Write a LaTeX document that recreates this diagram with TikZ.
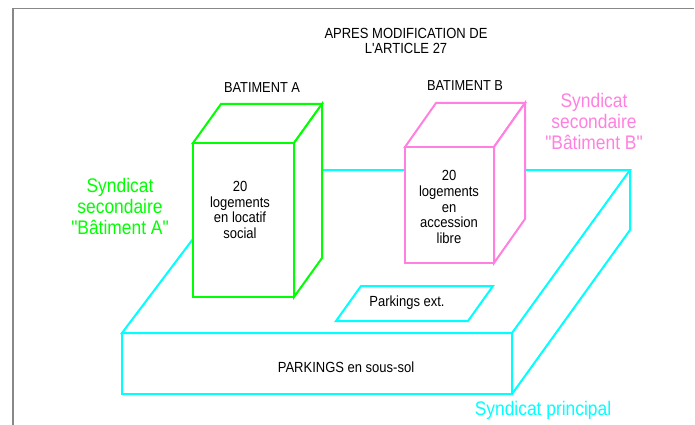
\documentclass[tikz,border=0pt]{standalone}
\usepackage{fontspec}
\usepackage{graphicx}
\setmainfont{Liberation Sans}
\newfontfamily\lsans{Liberation Sans}
\definecolor{cgreen}{RGB}{0,255,0}
\definecolor{ccyan}{RGB}{0,255,255}
\definecolor{cpink}{RGB}{255,128,224}
\definecolor{cframe}{RGB}{136,136,136}
\newcommand\txt[3]{\scalebox{1}[1.13]{\lsans\fontsize{#1}{#2}\selectfont\begin{tabular}{@{}c@{}}#3\end{tabular}}}
\tikzset{
  slab/.style={draw=ccyan, line width=2pt, line join=miter},
  bldA/.style={draw=cgreen, fill=white, line width=2pt, line join=miter},
  bldB/.style={draw=cpink, fill=white, line width=2pt, line join=miter},
  lbl/.style={inner sep=0pt, text=black},
}
\begin{document}
\begin{tikzpicture}[x=1pt,y=-1pt]
\useasboundingbox (0,0) rectangle (695,425);
% frame
\draw[cframe, line width=1.3pt] (13,425) -- (13,8.5) -- (694,8.5);
% slab coordinates
\coordinate (sfl) at (122,333);
\coordinate (sfr) at (512,333);
\coordinate (sbl) at (245,170);
\coordinate (sbr) at (630,170);
\coordinate (sbl2) at (122,394);
\coordinate (sbr2) at (512,394);
\coordinate (sbrd) at (630,230);
\draw[slab] (sfl) -- (sbl) -- (sbr) -- (sfr) -- cycle;
\draw[slab] (sfl) rectangle (sbr2);
\draw[slab] (sbr) -- (sbrd) -- (sbr2);
% parkings ext
\coordinate (p1) at (361,286);
\coordinate (p2) at (493,286);
\coordinate (p3) at (468,321);
\coordinate (p4) at (336,321);
\draw[slab] (p1) -- (p2) -- (p3) -- (p4) -- cycle;
% building A
\coordinate (a1) at (193,143);
\coordinate (a2) at (294,143);
\coordinate (a3) at (294,297);
\coordinate (a4) at (193,297);
\coordinate (a5) at (221,104);
\coordinate (a6) at (322,104);
\coordinate (a7) at (322,258);
\draw[bldA] (a1) -- (a5) -- (a6) -- (a2) -- cycle;
\draw[bldA] (a2) -- (a6) -- (a7) -- (a3) -- cycle;
\draw[bldA] (a1) -- (a2) -- (a3) -- (a4) -- cycle;
% building B
\coordinate (b1) at (405,147);
\coordinate (b2) at (494,147);
\coordinate (b3) at (494,263);
\coordinate (b4) at (405,263);
\coordinate (b5) at (436,103);
\coordinate (b6) at (525,103);
\coordinate (b7) at (525,219);
\draw[bldB] (b1) -- (b5) -- (b6) -- (b2) -- cycle;
\draw[bldB] (b2) -- (b6) -- (b7) -- (b3) -- cycle;
\draw[bldB] (b1) -- (b2) -- (b3) -- (b4) -- cycle;
% texts
\node[lbl] (title) at (406,43) {\txt{13}{12.7}{APRES MODIFICATION DE\\L'ARTICLE 27}};
\node[lbl] (tA) at (262,89) {\txt{12.8}{14}{BATIMENT A}};
\node[lbl] (tB) at (465,87.5) {\txt{12.8}{14}{BATIMENT B}};
\node[lbl] (cA) at (240,212) {\txt{13}{13.8}{20\\logements\\en locatif\\social}};
\node[lbl] (cB) at (449,209) {\txt{13}{13.8}{20\\logements\\en\\accession\\libre}};
\node[lbl] (pext) at (407,303.5) {\txt{13}{14}{Parkings ext.}};
\node[lbl] (pss) at (346,369.5) {\txt{13}{14}{PARKINGS en sous-sol}};
\node[lbl, text=cgreen] (sA) at (120,209.5) {\txt{17.4}{18.6}{Syndicat\\secondaire\\"Bâtiment A"}};
\node[lbl, text=cpink] (sB) at (594,124) {\txt{17.4}{18.6}{Syndicat\\secondaire\\"Bâtiment B"}};
\node[lbl, text=ccyan] (sP) at (543,411.5) {\txt{17.4}{18.6}{Syndicat principal}};
\end{tikzpicture}
\end{document}
